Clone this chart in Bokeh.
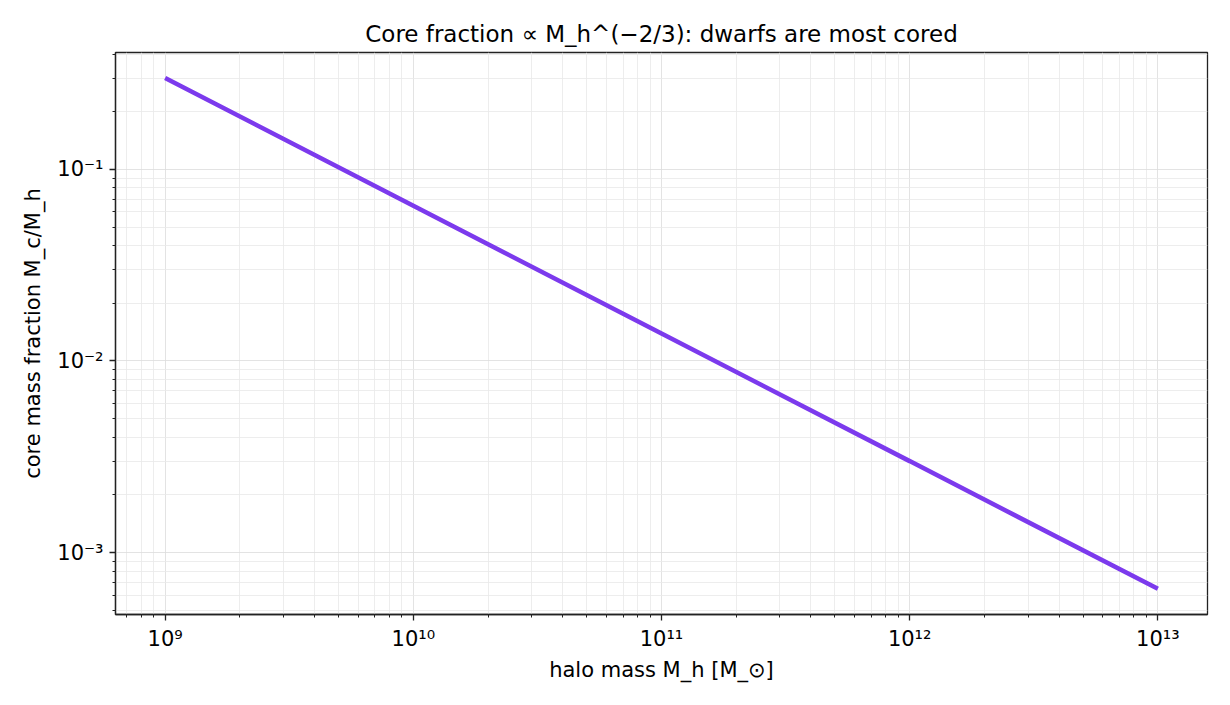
from bokeh.plotting import figure
from bokeh.models import FixedTicker, Range1d
from bokeh.embed import file_html
from bokeh.resources import INLINE

# Data
halo_mass = [1e9, 1e10, 1e11, 1e12, 1e13]
core_fraction = [0.30, 0.0646, 0.0139, 0.0030, 0.000646]

x_major = [1e9, 1e10, 1e11, 1e12, 1e13]
x_labels = ["10⁹", "10¹⁰", "10¹¹", "10¹²", "10¹³"]
y_major = [1e-3, 1e-2, 1e-1]
y_labels = ["10⁻³", "10⁻²", "10⁻¹"]

x_minor = [k * 10.0 ** e for e in range(8, 14) for k in range(2, 10)]
y_minor = [k * 10.0 ** e for e in range(-4, 0) for k in range(2, 10)]

p = figure(width=1214, height=689, x_axis_type="log", y_axis_type="log",
           x_range=Range1d(10 ** 8.8, 10 ** 13.2),
           y_range=Range1d(10 ** -3.3236, 10 ** -0.3896),
           output_backend="svg", toolbar_location=None,
           title="Core fraction ∝ M_h^(−2/3): dwarfs are most cored",
           min_border_left=115, min_border_right=7,
           min_border_top=52, min_border_bottom=75)

p.line(halo_mass, core_fraction, line_color="#7c3aed", line_width=4.5)

p.title.align = "center"
p.title.text_font = "DejaVu Sans"
p.title.text_font_size = "23px"
p.title.text_font_style = "normal"
p.title.text_color = "#000000"
p.title.standoff = 12

p.xaxis.ticker = FixedTicker(ticks=x_major, minor_ticks=x_minor)
p.yaxis.ticker = FixedTicker(ticks=y_major, minor_ticks=y_minor)
p.xaxis.major_label_overrides = dict(zip(x_major, x_labels))
p.yaxis.major_label_overrides = dict(zip(y_major, y_labels))

p.xaxis.axis_label = "halo mass M_h [M_⊙]"
p.yaxis.axis_label = "core mass fraction M_c/M_h"

for ax in (p.xaxis, p.yaxis):
    ax.axis_label_text_font = "DejaVu Sans"
    ax.axis_label_text_font_size = "21px"
    ax.axis_label_text_font_style = "normal"
    ax.axis_label_text_color = "#000000"
    ax.major_label_text_font = "DejaVu Sans"
    ax.major_label_text_font_size = "21px"
    ax.major_label_text_color = "#000000"
    ax.axis_line_color = "#222222"
    ax.axis_line_width = 1.3
    ax.major_tick_line_color = "#222222"
    ax.major_tick_line_width = 1.3
    ax.minor_tick_line_color = "#222222"
    ax.major_tick_in = 0
    ax.major_tick_out = 6
    ax.minor_tick_in = 0
    ax.minor_tick_out = 3

p.xaxis.major_label_standoff = 6
p.yaxis.major_label_standoff = 6
p.xaxis.axis_label_standoff = 4
p.yaxis.axis_label_standoff = 9
p.yaxis.major_label_orientation = "horizontal"

p.outline_line_color = "#222222"
p.outline_line_width = 1.3
p.outline_line_alpha = 1.0

for g in (p.xgrid, p.ygrid):
    g.grid_line_color = "#dcdcdc"
    g.grid_line_alpha = 0.8
    g.minor_grid_line_color = "#e8e8e8"
    g.minor_grid_line_alpha = 0.8

p.background_fill_color = "white"
p.border_fill_color = "white"

open("out.html", "w").write(file_html(p, INLINE))
